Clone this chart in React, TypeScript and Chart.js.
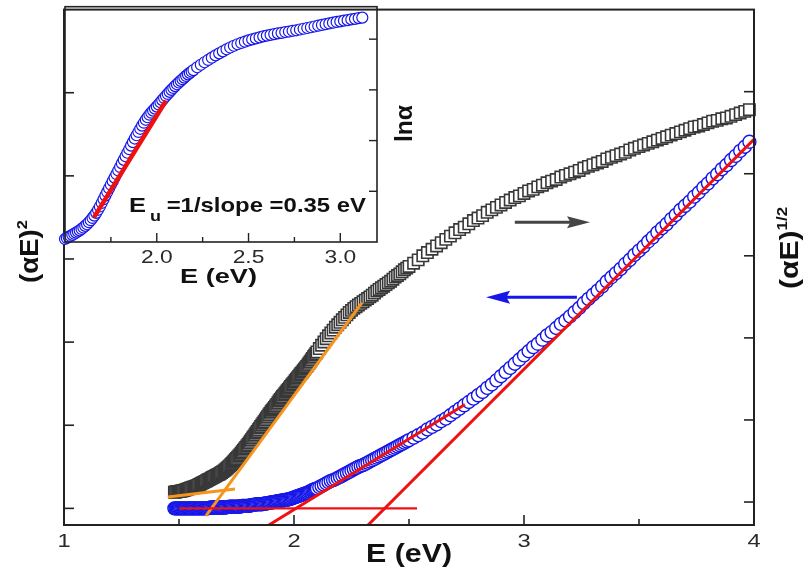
import React, { useEffect, useRef } from "react";
import { Chart, registerables } from "chart.js";

Chart.register(...registerables);

// ---------- main plot data (photon energy in eV) ----------
const energyEV = [
  1.480, 1.485, 1.490, 1.495, 1.500, 1.505, 1.510, 1.515, 1.520, 1.525,
  1.530, 1.535, 1.540, 1.545, 1.550, 1.555, 1.560, 1.565, 1.570, 1.575,
  1.580, 1.585, 1.590, 1.595, 1.600, 1.605, 1.610, 1.615, 1.620, 1.625,
  1.630, 1.635, 1.640, 1.645, 1.650, 1.655, 1.660, 1.665, 1.670, 1.675,
  1.680, 1.685, 1.690, 1.695, 1.700, 1.705, 1.710, 1.715, 1.720, 1.725,
  1.730, 1.735, 1.740, 1.745, 1.750, 1.755, 1.760, 1.765, 1.770, 1.775,
  1.780, 1.785, 1.790, 1.795, 1.800, 1.805, 1.810, 1.815, 1.820, 1.825,
  1.830, 1.835, 1.840, 1.845, 1.850, 1.855, 1.860, 1.865, 1.870, 1.875,
  1.880, 1.885, 1.890, 1.895, 1.900, 1.905, 1.910, 1.915, 1.920, 1.925,
  1.930, 1.935, 1.940, 1.945, 1.950, 1.955, 1.960, 1.965, 1.970, 1.975,
  1.980, 1.985, 1.990, 1.995, 2.000, 2.005, 2.010, 2.015, 2.020, 2.025,
  2.030, 2.035, 2.040, 2.045, 2.050, 2.055, 2.060, 2.065, 2.070, 2.075,
  2.080, 2.085, 2.090, 2.095, 2.100,
  2.11, 2.12, 2.13, 2.14, 2.15, 2.16, 2.17, 2.18, 2.19, 2.20,
  2.21, 2.22, 2.23, 2.24, 2.25, 2.26, 2.27, 2.28, 2.29, 2.30,
  2.31, 2.32, 2.33, 2.34, 2.35, 2.36, 2.37, 2.38, 2.39, 2.40,
  2.41, 2.42, 2.43, 2.44, 2.45, 2.46, 2.47, 2.48, 2.49, 2.50,
  2.52, 2.54, 2.56, 2.58, 2.60, 2.62, 2.64, 2.66, 2.68, 2.70,
  2.72, 2.74, 2.76, 2.78, 2.80, 2.82, 2.84, 2.86, 2.88, 2.90,
  2.92, 2.94, 2.96, 2.98, 3.00, 3.02, 3.04, 3.06, 3.08, 3.10,
  3.12, 3.14, 3.16, 3.18, 3.20, 3.22, 3.24, 3.26, 3.28, 3.30,
  3.32, 3.34, 3.36, 3.38, 3.40, 3.42, 3.44, 3.46, 3.48, 3.50,
  3.52, 3.54, 3.56, 3.58, 3.60, 3.62, 3.64, 3.66, 3.68, 3.70,
  3.72, 3.74, 3.76, 3.78, 3.80, 3.82, 3.84, 3.86, 3.88, 3.90,
  3.92, 3.94, 3.96, 3.98,
];

// (αE)^2, left axis (arbitrary units)
const alphaESquared = [
  0, 0, 0, 0, 0, 0, 0, 0, 0, 0,
  0, 0, 0, 0, 0, 0, 0, 0, 0, 0,
  0, 0, 0, 0, 0, 0, 0, 0, 0, 0.002,
  0.005, 0.008, 0.01, 0.01, 0.01, 0.01, 0.01, 0.01, 0.01, 0.01,
  0.01, 0.01, 0.01, 0.01, 0.01, 0.012, 0.015, 0.018, 0.02, 0.02,
  0.02, 0.02, 0.02, 0.02, 0.02, 0.02, 0.02, 0.022, 0.025, 0.028,
  0.03, 0.03, 0.03, 0.03, 0.03, 0.032, 0.035, 0.038, 0.04, 0.042,
  0.045, 0.048, 0.05, 0.05, 0.05, 0.05, 0.05, 0.052, 0.055, 0.058,
  0.06, 0.062, 0.065, 0.068, 0.07, 0.072, 0.075, 0.078, 0.08, 0.082,
  0.085, 0.088, 0.09, 0.092, 0.095, 0.098, 0.10, 0.102, 0.105, 0.108,
  0.11, 0.115, 0.12, 0.125, 0.13, 0.135, 0.14, 0.145, 0.15, 0.155,
  0.16, 0.165, 0.17, 0.175, 0.18, 0.185, 0.19, 0.198, 0.205, 0.212,
  0.22, 0.225, 0.23, 0.235, 0.24,
  0.255, 0.27, 0.285, 0.30, 0.315, 0.33, 0.34, 0.35, 0.365, 0.38,
  0.395, 0.41, 0.425, 0.44, 0.455, 0.47, 0.485, 0.50, 0.51, 0.52,
  0.535, 0.55, 0.565, 0.58, 0.595, 0.61, 0.625, 0.64, 0.655, 0.67,
  0.685, 0.70, 0.715, 0.73, 0.745, 0.76, 0.775, 0.79, 0.805, 0.82,
  0.85, 0.88, 0.91, 0.95, 0.98, 1.01, 1.05, 1.08, 1.12, 1.16,
  1.20, 1.24, 1.28, 1.32, 1.36, 1.40, 1.45, 1.49, 1.54, 1.59,
  1.64, 1.69, 1.74, 1.79, 1.84, 1.89, 1.94, 1.98, 2.03, 2.08,
  2.12, 2.17, 2.22, 2.26, 2.31, 2.36, 2.41, 2.47, 2.52, 2.57,
  2.62, 2.67, 2.73, 2.78, 2.83, 2.88, 2.94, 2.99, 3.05, 3.10,
  3.15, 3.21, 3.26, 3.32, 3.37, 3.42, 3.48, 3.53, 3.59, 3.64,
  3.69, 3.75, 3.80, 3.86, 3.91, 3.97, 4.02, 4.08, 4.13, 4.19,
  4.24, 4.30, 4.35, 4.41,
];

// (αE)^1/2, right axis (arbitrary units)
const alphaESqrt = [
  0.12, 0.122, 0.125, 0.128, 0.13, 0.132, 0.135, 0.138, 0.14, 0.145,
  0.15, 0.155, 0.16, 0.165, 0.17, 0.175, 0.18, 0.185, 0.19, 0.195,
  0.20, 0.208, 0.215, 0.222, 0.23, 0.238, 0.245, 0.252, 0.26, 0.268,
  0.275, 0.282, 0.29, 0.298, 0.305, 0.312, 0.32, 0.328, 0.335, 0.342,
  0.35, 0.36, 0.37, 0.38, 0.39, 0.402, 0.415, 0.428, 0.44, 0.455,
  0.47, 0.485, 0.50, 0.515, 0.53, 0.545, 0.56, 0.578, 0.595, 0.612,
  0.63, 0.648, 0.665, 0.682, 0.70, 0.72, 0.74, 0.76, 0.78, 0.80,
  0.82, 0.84, 0.86, 0.88, 0.90, 0.92, 0.94, 0.96, 0.98, 1.00,
  1.02, 1.04, 1.06, 1.08, 1.10, 1.118, 1.135, 1.152, 1.17, 1.19,
  1.21, 1.23, 1.25, 1.268, 1.285, 1.302, 1.32, 1.338, 1.355, 1.372,
  1.39, 1.408, 1.425, 1.442, 1.46, 1.478, 1.495, 1.512, 1.53, 1.548,
  1.565, 1.582, 1.60, 1.618, 1.635, 1.652, 1.67, 1.69, 1.71, 1.73,
  1.75, 1.77, 1.79, 1.81, 1.83,
  1.87, 1.91, 1.95, 1.99, 2.025, 2.06, 2.095, 2.13, 2.16, 2.19,
  2.22, 2.25, 2.28, 2.31, 2.335, 2.36, 2.38, 2.40, 2.42, 2.44,
  2.46, 2.48, 2.50, 2.52, 2.545, 2.57, 2.59, 2.61, 2.63, 2.65,
  2.67, 2.69, 2.715, 2.74, 2.76, 2.78, 2.805, 2.83, 2.85, 2.87,
  2.91, 2.95, 3.00, 3.04, 3.08, 3.12, 3.16, 3.20, 3.24, 3.28,
  3.32, 3.35, 3.39, 3.43, 3.46, 3.49, 3.53, 3.56, 3.59, 3.62,
  3.65, 3.68, 3.71, 3.73, 3.76, 3.79, 3.81, 3.84, 3.86, 3.89,
  3.91, 3.93, 3.96, 3.98, 4.00, 4.02, 4.04, 4.07, 4.09, 4.11,
  4.13, 4.15, 4.18, 4.20, 4.22, 4.24, 4.26, 4.29, 4.31, 4.33,
  4.35, 4.37, 4.39, 4.41, 4.43, 4.45, 4.47, 4.49, 4.51, 4.53,
  4.55, 4.57, 4.58, 4.60, 4.62, 4.64, 4.65, 4.67, 4.68, 4.70,
  4.72, 4.74, 4.76, 4.78,
];

// fitted straight lines: [E, value]
const tauFitHigh = [[2.322, -0.2], [4.0, 4.44]];      // left axis
const tauFitLow = [[1.891, -0.2], [2.743, 1.25]];     // left axis
const tauBaseline = [[1.5, 0], [2.535, 0]];           // left axis
const sqrtFitSteep = [[1.617, -0.17], [2.296, 2.43]]; // right axis
const sqrtFitFlat = [[1.452, 0.06], [1.743, 0.16]];   // right axis

// arrows pointing to the relevant axis: [E, value]
const arrowToRight = [[2.96, 3.41], [3.287, 3.41]];   // right axis
const arrowToLeft = [[3.23, 2.54], [2.835, 2.54]];    // left axis

// tick labels
const mainXTickValues = [1, 2, 3, 4];
const mainXTickLabels = ["1", "2", "3", "4"];

// ---------- inset data ----------
const insetEnergy = [
  1.50, 1.51, 1.52, 1.53, 1.54, 1.55, 1.56, 1.57, 1.58, 1.59,
  1.60, 1.61, 1.62, 1.63, 1.64, 1.65, 1.66, 1.67, 1.68, 1.69,
  1.70, 1.71, 1.72, 1.73, 1.74, 1.75, 1.76, 1.77, 1.78, 1.79,
  1.80, 1.81, 1.82, 1.83, 1.84, 1.85, 1.86, 1.87, 1.88, 1.89,
  1.90, 1.91, 1.92, 1.93, 1.94, 1.95, 1.96, 1.97, 1.98, 1.99,
  2.00, 2.01, 2.02, 2.03, 2.04, 2.05, 2.06, 2.07, 2.08, 2.09,
  2.10, 2.11, 2.12, 2.13, 2.14, 2.15, 2.16, 2.17, 2.18, 2.19,
  2.20,
  2.22, 2.24, 2.26, 2.28, 2.30, 2.32, 2.34, 2.36, 2.38, 2.40,
  2.42, 2.44, 2.46, 2.48, 2.50, 2.52, 2.54, 2.56, 2.58, 2.60,
  2.62, 2.64, 2.66, 2.68, 2.70, 2.72, 2.74, 2.76, 2.78, 2.80,
  2.82, 2.84, 2.86, 2.88, 2.90, 2.92, 2.94, 2.96, 2.98, 3.00,
  3.02, 3.04, 3.06, 3.08, 3.10, 3.12,
];
const insetLnAlpha = [
  6.12, 6.16, 6.20, 6.24, 6.28, 6.325, 6.37, 6.415, 6.46, 6.515,
  6.57, 6.635, 6.70, 6.78, 6.86, 6.95, 7.04, 7.15, 7.27, 7.40,
  7.54, 7.685, 7.83, 7.975, 8.12, 8.26, 8.40, 8.54, 8.68, 8.82,
  8.96, 9.10, 9.24, 9.38, 9.52, 9.66, 9.80, 9.94, 10.08, 10.21,
  10.34, 10.465, 10.59, 10.705, 10.82, 10.92, 11.02, 11.10, 11.18, 11.26,
  11.34, 11.425, 11.51, 11.595, 11.68, 11.76, 11.84, 11.92, 12.00, 12.075,
  12.15, 12.22, 12.29, 12.355, 12.42, 12.485, 12.55, 12.61, 12.67, 12.725,
  12.78,
  12.89, 12.99, 13.09, 13.18, 13.27, 13.36, 13.44, 13.52, 13.60, 13.67,
  13.74, 13.80, 13.85, 13.90, 13.95, 13.99, 14.03, 14.07, 14.11, 14.14,
  14.17, 14.20, 14.23, 14.25, 14.28, 14.30, 14.33, 14.35, 14.38, 14.41,
  14.44, 14.47, 14.50, 14.53, 14.56, 14.59, 14.62, 14.65, 14.68, 14.70,
  14.73, 14.75, 14.78, 14.80, 14.83, 14.85,
];
const insetUrbachFit = [[1.658, 6.97], [2.05, 11.57]];
const insetXTickValues = [2.0, 2.5, 3.0];
const insetXTickLabels = ["2.0", "2.5", "3.0"];

// ---------- styling ----------
const FONT = '"Liberation Sans", Arial, Helvetica, sans-serif';
const BLUE = "#1616e8";
const RED = "#f01010";
const ORANGE = "#f7941d";
const GRAY = "#383838";
const AXIS = "#222222";
const TXT = "#2a2a2a";

const pts = (xs: number[], ys: number[]) => xs.map((x, i) => ({ x, y: ys[i] }));
const pairs = (p: number[][]) => p.map(([x, y]) => ({ x, y }));

function seg(ctx: CanvasRenderingContext2D, x1: number, y1: number, x2: number, y2: number) {
  ctx.beginPath();
  ctx.moveTo(x1, y1);
  ctx.lineTo(x2, y2);
  ctx.stroke();
}

function spanText(ctx: CanvasRenderingContext2D, text: string, left: number, right: number, baseline: number, font: string, color = TXT) {
  ctx.save();
  ctx.font = font;
  ctx.fillStyle = color;
  ctx.textAlign = "left";
  ctx.textBaseline = "alphabetic";
  const w = ctx.measureText(text).width;
  ctx.translate(left, baseline);
  ctx.scale((right - left) / w, 1);
  ctx.fillText(text, 0, 0);
  ctx.restore();
}

function centerText(ctx: CanvasRenderingContext2D, text: string, cx: number, baseline: number, font: string, sx: number, color = TXT) {
  ctx.save();
  ctx.font = font;
  ctx.fillStyle = color;
  ctx.textAlign = "center";
  ctx.textBaseline = "alphabetic";
  ctx.translate(cx, baseline);
  ctx.scale(sx, 1);
  ctx.fillText(text, 0, 0);
  ctx.restore();
}

type Part = { t: string; font: string; dy: number };
// vertical text reading bottom-to-top; starts at page y=startY, ends at endY; baseline at page x=baseX
function vertText(ctx: CanvasRenderingContext2D, parts: Part[], baseX: number, startY: number, endY: number, color = "#111") {
  ctx.save();
  ctx.fillStyle = color;
  ctx.textAlign = "left";
  ctx.textBaseline = "alphabetic";
  let total = 0;
  const widths = parts.map((p) => {
    ctx.font = p.font;
    const w = ctx.measureText(p.t).width;
    total += w;
    return w;
  });
  ctx.translate(baseX, startY);
  ctx.rotate(-Math.PI / 2);
  ctx.scale((startY - endY) / total, 1);
  let x = 0;
  parts.forEach((p, i) => {
    ctx.font = p.font;
    ctx.fillText(p.t, x, p.dy);
    x += widths[i];
  });
  ctx.restore();
}

function arrow(ctx: CanvasRenderingContext2D, x1: number, y1: number, x2: number, y2: number, color: string, headLen: number, headHalf: number) {
  const dir = Math.sign(x2 - x1);
  ctx.save();
  ctx.strokeStyle = color;
  ctx.fillStyle = color;
  ctx.lineWidth = 3;
  seg(ctx, x1, y1, x2 - dir * headLen * 0.8, y2);
  ctx.beginPath();
  ctx.moveTo(x2, y2);
  ctx.lineTo(x2 - dir * headLen, y2 - headHalf);
  ctx.lineTo(x2 - dir * headLen * 0.85, y2);
  ctx.lineTo(x2 - dir * headLen, y2 + headHalf);
  ctx.closePath();
  ctx.fill();
  ctx.restore();
}

const isMultiple = (v: number, step: number) => Math.abs(v / step - Math.round(v / step)) < 1e-6;

const mainDecor = {
  id: "mainDecor",
  afterDatasetsDraw(chart: any) {
    const { ctx, chartArea: a, scales } = chart;
    const x = scales.x, yL = scales.yL, yR = scales.yR;

    arrow(ctx, x.getPixelForValue(arrowToRight[0][0]), yR.getPixelForValue(arrowToRight[0][1]),
      x.getPixelForValue(arrowToRight[1][0]), yR.getPixelForValue(arrowToRight[1][1]), "#454545", 23, 6);
    arrow(ctx, x.getPixelForValue(arrowToLeft[0][0]), yL.getPixelForValue(arrowToLeft[0][1]),
      x.getPixelForValue(arrowToLeft[1][0]), yL.getPixelForValue(arrowToLeft[1][1]), BLUE, 24, 6.5);

    ctx.save();
    ctx.strokeStyle = AXIS;
    ctx.lineWidth = 2;
    ctx.strokeRect(a.left, a.top, a.right - a.left, a.bottom - a.top);
    ctx.lineWidth = 1.6;
    for (const t of x.ticks) {
      const v = t.value;
      if (v <= x.min + 1e-6 || v >= x.max - 1e-6) continue;
      const px = x.getPixelForValue(v);
      const major = mainXTickValues.some((m) => Math.abs(m - v) < 1e-6);
      seg(ctx, px, a.bottom, px, a.bottom - (major ? 10 : 6));
    }
    for (const t of yL.ticks) {
      const v = t.value;
      if (!isMultiple(v, 1) || v <= yL.min || v >= yL.max - 1e-6) continue;
      const py = yL.getPixelForValue(v);
      seg(ctx, a.left, py, a.left + 10, py);
    }
    for (const t of yR.ticks) {
      const v = t.value;
      if (!isMultiple(v, 1) || v <= yR.min || v >= yR.max - 1e-6) continue;
      const py = yR.getPixelForValue(v);
      seg(ctx, a.right, py, a.right - 10, py);
    }
    ctx.restore();

    mainXTickValues.forEach((v, i) => {
      centerText(ctx, mainXTickLabels[i], x.getPixelForValue(v), a.bottom + 22, `19px ${FONT}`, 1.25);
    });
    spanText(ctx, "E (eV)", 366, 452, 562, `bold 25px ${FONT}`, "#111");
    vertText(ctx, [
      { t: "(\u03b1E)", font: `bold 25px ${FONT}`, dy: 0 },
      { t: "2", font: `bold 15px ${FONT}`, dy: -11 },
    ], 38, 283, 220);
    vertText(ctx, [
      { t: "(\u03b1E)", font: `bold 25px ${FONT}`, dy: 0 },
      { t: "1/2", font: `bold 14px ${FONT}`, dy: -11 },
    ], 798, 289, 207);
  },
};

const insetDecor = {
  id: "insetDecor",
  afterDatasetsDraw(chart: any) {
    const { ctx, chartArea: a, scales } = chart;
    const x = scales.x, y = scales.y;
    ctx.save();
    ctx.strokeStyle = AXIS;
    ctx.lineWidth = 1.6;
    ctx.strokeRect(a.left, a.top, a.right - a.left, a.bottom - a.top);
    ctx.lineWidth = 1.4;
    for (const t of x.ticks) {
      const v = t.value;
      if (v <= x.min + 1e-6 || v >= x.max - 1e-6) continue;
      const px = x.getPixelForValue(v);
      const major = isMultiple(v, 0.5);
      seg(ctx, px, a.bottom, px, a.bottom - (major ? 9 : 5));
    }
    for (const t of y.ticks) {
      const v = t.value;
      if (!isMultiple(v, 2) || v <= y.min + 1e-6 || v >= y.max - 1e-6) continue;
      const py = y.getPixelForValue(v);
      seg(ctx, a.right, py, a.right - 8, py);
    }
    ctx.restore();

    insetXTickValues.forEach((v, i) => {
      centerText(ctx, insetXTickLabels[i], x.getPixelForValue(v), a.bottom + 21, `19px ${FONT}`, 1.2);
    });
    spanText(ctx, "E (eV)", 180, 257, 283, `bold 21px ${FONT}`, "#111");
    vertText(ctx, [{ t: "ln\u03b1", font: `bold 23px ${FONT}`, dy: 0 }], 412, 142, 105);

    spanText(ctx, "E", 129, 146, 212, `bold 21px ${FONT}`, "#111");
    spanText(ctx, "u", 150, 161, 221, `bold 15px ${FONT}`, "#111");
    spanText(ctx, " =1/slope =0.35 eV", 160, 366, 212, `bold 21px ${FONT}`, "#111");
  },
};

function lineDs(data: number[][], color: string, width: number, axis: string) {
  return {
    data: pairs(data),
    showLine: true,
    borderColor: color,
    borderWidth: width,
    pointRadius: 0,
    yAxisID: axis,
    clip: 0,
  };
}

export default function App() {
  const mainRef = useRef<HTMLCanvasElement>(null);
  const insetRef = useRef<HTMLCanvasElement>(null);

  useEffect(() => {
    const main = new Chart(mainRef.current as HTMLCanvasElement, {
      type: "scatter",
      data: {
        datasets: [
          lineDs(tauFitHigh, RED, 3, "yL"),
          lineDs(tauFitLow, RED, 3, "yL"),
          lineDs(tauBaseline, RED, 2.2, "yL"),
          lineDs(sqrtFitSteep, ORANGE, 3, "yR"),
          lineDs(sqrtFitFlat, ORANGE, 3, "yR"),
          {
            label: "(\u03b1E)^2",
            data: pts(energyEV, alphaESquared),
            yAxisID: "yL",
            showLine: false,
            pointStyle: "circle",
            pointRadius: 6.5,
            pointBorderWidth: 1.4,
            pointBorderColor: BLUE,
            pointBackgroundColor: "#ffffff",
            clip: 10,
          },
          {
            label: "(\u03b1E)^1/2",
            data: pts(energyEV, alphaESqrt),
            yAxisID: "yR",
            showLine: false,
            pointStyle: "rect",
            pointRadius: 8,
            pointBorderWidth: 1.6,
            pointBorderColor: GRAY,
            pointBackgroundColor: "#ffffff",
            clip: 10,
          },
        ],
      } as any,
      options: {
        animation: false,
        responsive: false,
        devicePixelRatio: 1,
        events: [],
        layout: { padding: { left: 64, right: 49, top: 4, bottom: 49 } },
        plugins: { legend: { display: false }, tooltip: { enabled: false } },
        scales: {
          x: { type: "linear", min: 1, max: 4, display: false, ticks: { stepSize: 0.5, includeBounds: false } },
          yL: { type: "linear", position: "left", min: -0.2, max: 6, display: false, ticks: { stepSize: 1, includeBounds: false } },
          yR: { type: "linear", position: "right", min: -0.28, max: 6, display: false, ticks: { stepSize: 1, includeBounds: false } },
        },
      } as any,
      plugins: [mainDecor],
    });

    const inset = new Chart(insetRef.current as HTMLCanvasElement, {
      type: "scatter",
      data: {
        datasets: [
          { ...lineDs(insetUrbachFit, RED, 4.5, "y") },
          {
            label: "ln\u03b1",
            data: pts(insetEnergy, insetLnAlpha),
            yAxisID: "y",
            showLine: false,
            pointStyle: "circle",
            pointRadius: 5.5,
            pointBorderWidth: 1.2,
            pointBorderColor: BLUE,
            pointBackgroundColor: "#ffffff",
            clip: 8,
          },
        ],
      } as any,
      options: {
        animation: false,
        responsive: false,
        devicePixelRatio: 1,
        events: [],
        layout: { padding: { left: 65, right: 426, top: 4, bottom: 332 } },
        plugins: { legend: { display: false }, tooltip: { enabled: false } },
        scales: {
          x: { type: "linear", min: 1.5, max: 3.2, display: false, ticks: { stepSize: 0.25, includeBounds: false } },
          y: { type: "linear", position: "right", min: 6, max: 15.28, display: false, ticks: { stepSize: 2, includeBounds: false } },
        },
      } as any,
      plugins: [insetDecor],
    });

    return () => {
      main.destroy();
      inset.destroy();
    };
  }, []);

  return (
    <div style={{ position: "fixed", left: 0, top: 0, width: 803, height: 574, background: "#ffffff" }}>
      <canvas ref={mainRef} width={803} height={574} style={{ position: "absolute", left: 0, top: 0 }} />
      <canvas ref={insetRef} width={803} height={574} style={{ position: "absolute", left: 0, top: 0 }} />
    </div>
  );
}
